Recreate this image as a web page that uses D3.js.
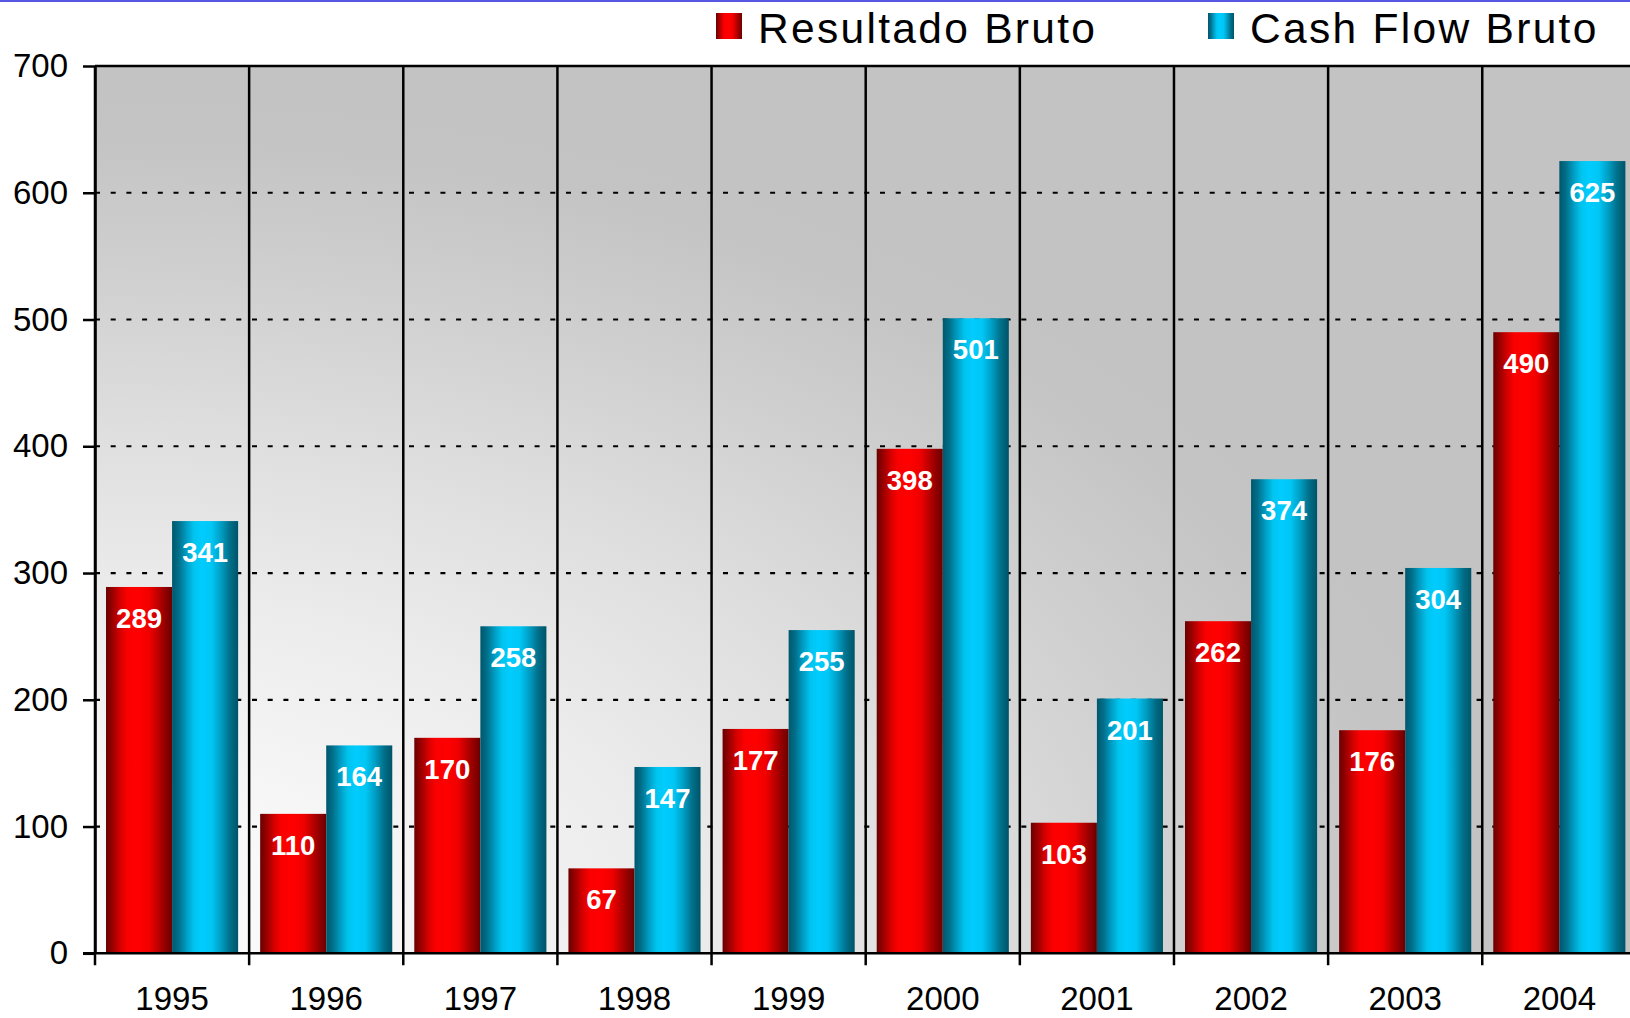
<!DOCTYPE html>
<html>
<head>
<meta charset="utf-8">
<script src="https://cdn.jsdelivr.net/npm/d3@7"></script>
<style>
  html, body { margin: 0; padding: 0; background: #ffffff; overflow: hidden; }
  svg { display: block; font-family: "Liberation Sans", Arial, Helvetica, sans-serif; }
</style>
</head>
<body>
<svg id="chart" width="1630" height="1018"></svg>
<script>
// ---- data ----
const categories = ["1995", "1996", "1997", "1998", "1999", "2000", "2001", "2002", "2003", "2004"];
const resultadoBruto = [289, 110, 170, 67, 177, 398, 103, 262, 176, 490];
const cashFlowBruto = [341, 164, 258, 147, 255, 501, 201, 374, 304, 625];
const seriesNames = ["Resultado Bruto", "Cash Flow Bruto"];
const yTickValues = [0, 100, 200, 300, 400, 500, 600, 700];

(function () {
// ---- layout ----
const W = 1630, H = 1018;
const pLeft = 95, pTop = 66, pBottom = 953.3;
const catStep = 154.14;
const pRight = pLeft + catStep * categories.length;

const svg = d3.select("#chart");
const defs = svg.append("defs");

// background radial gradient (light in bottom-left corner)
const bg = defs.append("radialGradient")
  .attr("id", "bgGrad")
  .attr("gradientUnits", "userSpaceOnUse")
  .attr("cx", 0).attr("cy", 0).attr("r", 1)
  .attr("gradientTransform", `translate(${pLeft},${pBottom}) scale(1400,860)`);
[[0, "#fcfcfc"], [0.2, "#f7f7f7"], [0.4, "#ededed"], [0.6, "#dfdfdf"], [0.8, "#cfcfcf"], [0.95, "#c4c4c4"], [1, "#c3c3c3"]]
  .forEach(([o, c]) => bg.append("stop").attr("offset", o).attr("stop-color", c));

function cylGrad(id, stops) {
  const g = defs.append("linearGradient").attr("id", id)
    .attr("x1", 0).attr("x2", 1).attr("y1", 0).attr("y2", 0);
  stops.forEach(([o, c]) => g.append("stop").attr("offset", o).attr("stop-color", c));
}
cylGrad("redGrad", [[0, "#6a0000"], [0.1, "#9a0000"], [0.22, "#d80000"], [0.32, "#fa0000"],
  [0.5, "#ff0000"], [0.66, "#f00000"], [0.8, "#b80000"], [0.92, "#880000"], [1, "#6a0000"]]);
cylGrad("cyanGrad", [[0, "#00576c"], [0.1, "#006f8a"], [0.22, "#009dc4"], [0.33, "#00c4ee"],
  [0.45, "#00ccff"], [0.6, "#00c6f4"], [0.74, "#009ec4"], [0.88, "#006e88"], [1, "#005468"]]);
const fills = ["url(#redGrad)", "url(#cyanGrad)"];

// top blue rule
svg.append("rect").attr("x", 0).attr("y", 0).attr("width", W).attr("height", 2).attr("fill", "#5656e2");

// scales
const x = d3.scaleBand().domain(categories).range([pLeft, pRight]).padding(0);
const x1 = d3.scaleBand().domain([0, 1]).range([0, x.bandwidth()]).paddingInner(0).paddingOuter(1 / 6);
const y = d3.scaleLinear().domain([0, 700]).range([pBottom, pTop]);

// plot background
svg.append("rect").attr("x", pLeft).attr("y", pTop)
  .attr("width", pRight - pLeft).attr("height", pBottom - pTop)
  .attr("fill", "url(#bgGrad)");

// dashed gridlines
svg.append("g").selectAll("line").data(yTickValues.filter(v => v > 0))
  .join("line")
  .attr("x1", pLeft).attr("x2", pRight)
  .attr("y1", d => y(d)).attr("y2", d => y(d))
  .attr("stroke", "#000").attr("stroke-width", 2.2)
  .attr("stroke-dasharray", "5 10.7");

// top border
svg.append("line").attr("x1", pLeft).attr("x2", pRight).attr("y1", y(700)).attr("y2", y(700))
  .attr("stroke", "#000").attr("stroke-width", 2.5);

// vertical category separators (extend below axis as ticks)
svg.append("g").selectAll("line").data(categories.slice(1))
  .join("line")
  .attr("x1", d => x(d)).attr("x2", d => x(d))
  .attr("y1", pTop).attr("y2", pBottom + 12)
  .attr("stroke", "#000").attr("stroke-width", 2.5);

// bars
const seriesData = [resultadoBruto, cashFlowBruto];
const groups = svg.append("g").selectAll("g").data(categories).join("g")
  .attr("transform", d => `translate(${x(d)},0)`);
groups.each(function (c, i) {
  const g = d3.select(this);
  const bd = seriesData.map((s, k) => ({ k, v: s[i] }));
  g.selectAll("rect").data(bd).join("rect")
    .attr("x", d => x1(d.k)).attr("width", x1.bandwidth())
    .attr("y", d => y(d.v)).attr("height", d => y(0) - y(d.v))
    .attr("fill", d => fills[d.k]);
  g.selectAll("text").data(bd).join("text")
    .attr("x", d => x1(d.k) + x1.bandwidth() / 2)
    .attr("y", d => y(d.v) + 41)
    .attr("text-anchor", "middle")
    .attr("fill", "#ffffff")
    .attr("font-weight", "bold")
    .attr("font-size", 27.5)
    .text(d => d.v);
});

// y axis
const yAxis = d3.axisLeft(y).tickValues(yTickValues).tickSize(12).tickSizeOuter(0).tickPadding(15);
const yg = svg.append("g").attr("transform", `translate(${pLeft},0)`).call(yAxis);
yg.select(".domain").attr("stroke", "#000").attr("stroke-width", 2.5);
yg.selectAll(".tick line").attr("stroke", "#000").attr("stroke-width", 2.5);
yg.selectAll(".tick text").attr("font-size", 33).attr("fill", "#000")
  .attr("font-family", "'Liberation Sans', Arial, sans-serif");

// x axis
const xAxis = d3.axisBottom(x).tickSize(0).tickSizeOuter(0).tickPadding(0);
const xg = svg.append("g").attr("transform", `translate(0,${pBottom})`).call(xAxis);
xg.select(".domain").remove();
xg.selectAll(".tick text").attr("font-size", 33).attr("fill", "#000")
  .attr("dy", null).attr("y", 57)
  .attr("font-family", "'Liberation Sans', Arial, sans-serif");
svg.append("line").attr("x1", pLeft - 12).attr("x2", pRight).attr("y1", pBottom).attr("y2", pBottom)
  .attr("stroke", "#000").attr("stroke-width", 2.5);
svg.append("line").attr("x1", pLeft).attr("x2", pLeft).attr("y1", pTop).attr("y2", pBottom + 12)
  .attr("stroke", "#000").attr("stroke-width", 2.5);

// legend
const legendX = [716, 1208];
const lg = svg.append("g").selectAll("g").data(seriesNames).join("g")
  .attr("transform", (d, i) => `translate(${legendX[i]},13)`);
lg.append("rect").attr("width", 26).attr("height", 26).attr("fill", (d, i) => fills[i]);
lg.append("text").attr("x", 42).attr("y", 30)
  .attr("font-size", 42.5).attr("letter-spacing", 2.3).attr("fill", "#000")
  .text(d => d);
})();
</script>
</body>
</html>
